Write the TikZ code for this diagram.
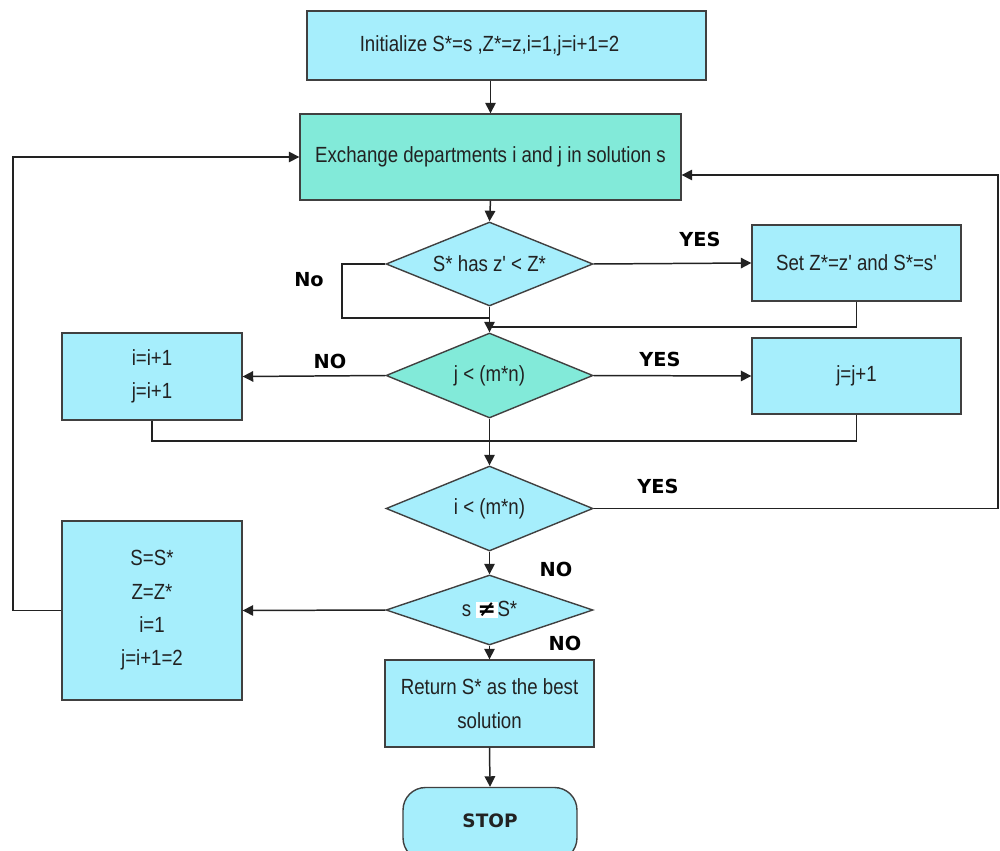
\documentclass[tikz,border=0pt]{standalone}
\usepackage{fontspec}
\setmainfont{Liberation Sans}
\newfontfamily\boxfont[FakeStretch=0.85]{Liberation Sans}
\newfontfamily\labelfont{DejaVu Sans}
\usetikzlibrary{shapes.geometric,arrows.meta}
\definecolor{boxcyan}{HTML}{A6EEFC}
\definecolor{boxteal}{HTML}{82EAD9}
\definecolor{edgegray}{HTML}{404040}
\definecolor{inkcol}{HTML}{222222}
\tikzset{
  procbox/.style={draw=edgegray, fill=boxcyan, line width=0.8pt, inner sep=0pt,
    align=center, text=inkcol, font=\boxfont\fontsize{12.5}{19}\selectfont},
  decision/.style={procbox, diamond},
  conn/.style={draw=inkcol, line width=0.85pt},
  arr/.style={conn, -{Triangle[length=6pt,width=6pt]}},
  tag/.style={font=\labelfont\bfseries\fontsize{11}{13}\selectfont, text=black, inner sep=0pt}
}
\begin{document}
\begin{tikzpicture}[x=0.02cm,y=-0.02cm]
\useasboundingbox (0,0) rectangle (1000,851);
\clip (0,0) rectangle (1000,851);

% process boxes and decisions
\node[procbox, minimum width=7.98cm, minimum height=1.38cm] (init) at (506.5,45.5) {Initialize S*=s ,Z*=z,i=1,j=i+1=2\hspace*{0.68cm}};
\node[procbox, fill=boxteal, minimum width=7.62cm, minimum height=1.72cm] (exch) at (490.5,157) {Exchange departments i and j in solution s};
\node[decision, aspect=2.46, minimum width=4.14cm, minimum height=1.68cm] (d1) at (489.5,264) {S* has z' < Z*};
\node[procbox, minimum width=4.18cm, minimum height=1.52cm] (set) at (856.5,263) {Set Z*=z' and S*=s'};
\node[decision, aspect=2.43, fill=boxteal, minimum width=4.14cm, minimum height=1.7cm] (d2) at (489.5,375.5) {j < (m*n)};
\node[procbox, minimum width=3.6cm, minimum height=1.74cm] (inc) at (152,376.5) {i=i+1\\j=i+1};
\node[procbox, minimum width=4.18cm, minimum height=1.52cm] (jbox) at (856.5,376) {j=j+1};
\node[decision, aspect=2.43, minimum width=4.14cm, minimum height=1.7cm] (d3) at (489.5,508.5) {i < (m*n)};
\node[decision, aspect=2.96, minimum width=4.14cm, minimum height=1.4cm] (d4) at (489.5,610)
  {s {\setlength{\fboxsep}{0.8pt}\colorbox{white}{\labelfont\bfseries\color{black}≠}}S*};
\node[procbox, minimum width=3.6cm, minimum height=3.58cm] (reset) at (152,610.5) {S=S*\\Z=Z*\\i=1\\j=i+1=2};
\node[procbox, minimum width=4.18cm, minimum height=1.74cm] (ret) at (489.5,703.5) {Return S* as the best\\solution};
\node[procbox, rounded corners=0.45cm, minimum width=3.48cm, minimum height=1.46cm] (stop) at (490,824)
  {\raisebox{4pt}{\labelfont\bfseries\fontsize{10.5}{12}\selectfont STOP}};

% junction and bend points
\coordinate (noBend) at (342,318);
\coordinate (joinA) at (490,318);
\coordinate (joinB) at (490,327);
\coordinate (joinC) at (490,441);
\coordinate (rightBend) at (998,175);
\coordinate (leftBend) at (13,157);

% connectors
\draw[arr] (init.south -| exch.north) -- (exch.north);
\draw[arr] (exch.south) -- (d1.north);
\draw[arr] (d1.east) -- (set.west);
\draw[conn] (d1.west) -| (noBend) -- (joinA);
\draw[conn] (set.south) |- (joinB);
\draw[arr] (d1.south) -- (d2.north);
\draw[arr] (d2.west) -- (inc.east);
\draw[arr] (d2.east) -- (jbox.west);
\draw[conn] (inc.south) |- (joinC);
\draw[conn] (jbox.south) |- (joinC);
\draw[arr] (d2.south) -- (d3.north);
\draw[arr] (d3.east) -| (rightBend) -- (exch.east |- rightBend);
\draw[arr] (d3.south) -- (d4.north);
\draw[arr] (d4.west) -- (reset.east);
\draw[arr] (reset.west) -| (leftBend) -- (exch.west);
\draw[arr] (d4.south) -- (ret.north);
\draw[arr] (ret.south) -- (stop.north);

% branch labels
\node[tag] (yes1) at (700,239) {YES};
\node[tag] (no1) at (309,280) {No};
\node[tag] (no2) at (330,361) {NO};
\node[tag] (yes2) at (660,359) {YES};
\node[tag] (yes3) at (658,486) {YES};
\node[tag] (no3) at (556,569) {NO};
\node[tag] (no4) at (565,643) {NO};
\end{tikzpicture}
\end{document}
